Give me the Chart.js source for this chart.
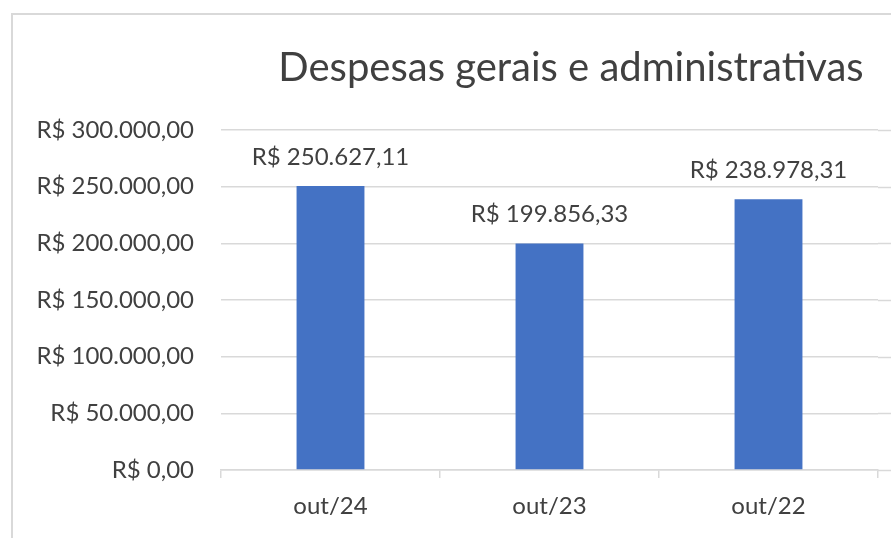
<!DOCTYPE html>
<html>
<head>
<meta charset="utf-8">
<script src="https://cdn.jsdelivr.net/npm/chart.js@4/dist/chart.umd.min.js"></script>
<style>
  html, body { margin: 0; padding: 0; background: #fff; overflow: hidden; }
  #frame { position: absolute; left: 11px; top: 13px; width: 1000px; height: 700px; border: 2px solid #d9d9d9; box-sizing: border-box; }
  #c { position: absolute; left: 0; top: 0; }
</style>
</head>
<body>
<div id="frame"></div>
<canvas id="c" width="891" height="538"></canvas>
<script>
const chartTitle = "Despesas gerais e administrativas";
const categories = ["out/24", "out/23", "out/22"];
const values = [250627.11, 199856.33, 238978.31];
const valueLabels = ["R$ 250.627,11", "R$ 199.856,33", "R$ 238.978,31"];
const yTicks = [0, 50000, 100000, 150000, 200000, 250000, 300000];
const yTickLabels = ["R$ 0,00", "R$ 50.000,00", "R$ 100.000,00", "R$ 150.000,00", "R$ 200.000,00", "R$ 250.000,00", "R$ 300.000,00"];

const FONT = "Lato, 'Open Sans', sans-serif";
const TEXT = "#404040";
const GRID = "#d9d9d9";

const overlay = {
  id: 'overlay',
  afterDatasetsDraw(chart) {
    const ctx = chart.ctx;
    const y = chart.scales.y;
    ctx.save();
    ctx.strokeStyle = GRID;
    ctx.lineWidth = 1.5;
    yTicks.forEach(v => {
      const py = Math.round(y.getPixelForValue(v)) + 0.5;
      ctx.beginPath();
      ctx.moveTo(chart.chartArea.right, py);
      ctx.lineTo(chart.width, py);
      ctx.stroke();
    });
    ctx.fillStyle = TEXT;
    ctx.font = "24px " + FONT;
    ctx.textAlign = "center";
    ctx.textBaseline = "middle";
    const meta = chart.getDatasetMeta(0);
    meta.data.forEach((bar, i) => {
      ctx.fillText(valueLabels[i], bar.x, bar.y - 29);
    });
    ctx.font = "40px " + FONT;
    ctx.fillText(chartTitle, 571, 68);
    ctx.restore();
  }
};

new Chart(document.getElementById('c'), {
  type: 'bar',
  data: {
    labels: categories,
    datasets: [{
      data: values,
      backgroundColor: "#4472C4",
      borderWidth: 0,
      barPercentage: 0.31,
      categoryPercentage: 1.0
    }]
  },
  options: {
    responsive: false,
    animation: false,
    devicePixelRatio: 1,
    layout: { padding: { left: 0, right: 13, top: 130, bottom: 0 } },
    plugins: { legend: { display: false }, title: { display: false }, tooltip: { enabled: false } },
    scales: {
      x: {
        offset: true,
        grid: { display: true, drawOnChartArea: false, drawTicks: true, tickLength: 8, color: GRID, lineWidth: 1.5, offset: true },
        border: { display: true, color: GRID, width: 1.5 },
        ticks: { color: TEXT, font: { family: FONT, size: 24 }, padding: 14 },
        afterFit(scale) { scale.height = 68; }
      },
      y: {
        min: 0, max: 300000,
        afterBuildTicks(scale) { scale.ticks = yTicks.map(v => ({ value: v })); },
        grid: { color: GRID, lineWidth: 1.5, drawTicks: false },
        border: { display: false },
        ticks: {
          color: TEXT, font: { family: FONT, size: 24 }, padding: 27,
          callback: (v) => yTickLabels[yTicks.indexOf(v)]
        },
        afterFit(scale) { scale.width = 221; }
      }
    }
  },
  plugins: [overlay]
});
</script>
</body>
</html>
